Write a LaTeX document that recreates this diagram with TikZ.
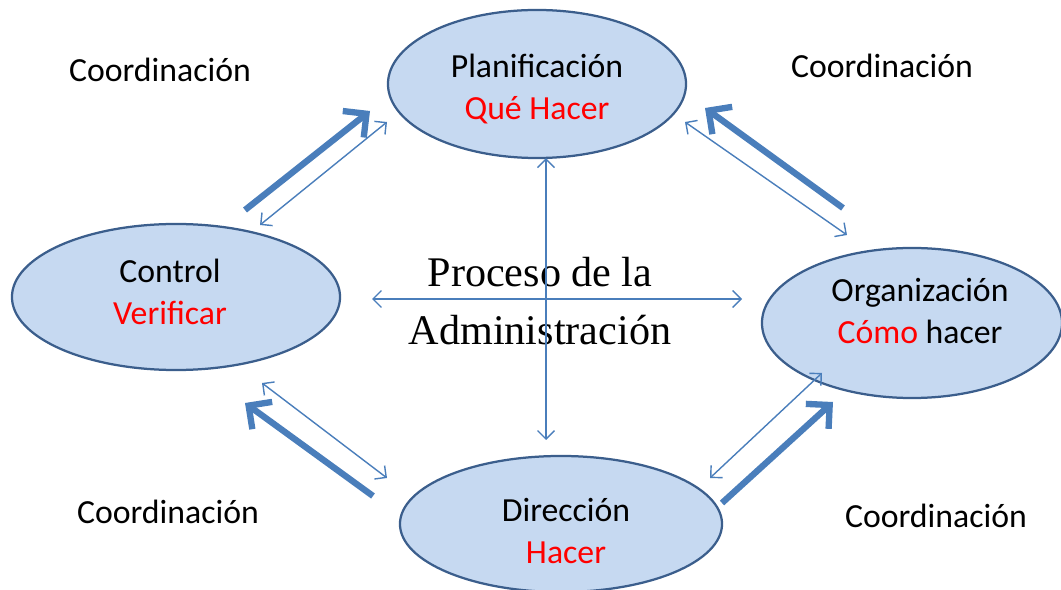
\documentclass[tikz,border=0pt]{standalone}
\usepackage{fontspec}
\setmainfont{Carlito}
\newfontfamily\procfont{Liberation Serif}
\usetikzlibrary{shapes.geometric,arrows.meta,calc}
\definecolor{elfill}{HTML}{C6D9F1}
\definecolor{eldraw}{HTML}{3B5E8C}
\definecolor{arrblue}{HTML}{4A7EBB}
\tikzset{
  fase/.style={ellipse, draw=eldraw, line width=1.6pt, fill=elfill,
    inner sep=0pt},
  fasetxt/.style={align=center, inner sep=0pt, font=\fontsize{24}{30}\selectfont},
  thinarr/.style={arrblue, line width=1pt,
    {Straight Barb[length=6pt,width=12pt]}-{Straight Barb[length=6pt,width=12pt]}},
  thickarr/.style={arrblue, line width=4.5pt,
    -{Straight Barb[length=12pt,width=24pt]}},
  coordlbl/.style={font=\fontsize{24}{30}\selectfont}
}
\begin{document}
\begin{tikzpicture}[x=0.025cm,y=-0.025cm]
\useasboundingbox (0,0) rectangle (1061,590);
% fases
\node[fase,minimum width=7.45cm,minimum height=3.7cm] (plan) at (537,84) {};
\node[fasetxt] (plantxt) at ($(plan)+(0,5)$) {Planificación\\\textcolor{red}{Qué Hacer}};
\node[fase,minimum width=8.2cm,minimum height=3.65cm] (ctrl) at (176,297) {};
\node[fasetxt] (ctrltxt) at ($(ctrl)+(-6,-5)$) {Control\\\textcolor{red}{Verificar}};
\node[fase,minimum width=7.5cm,minimum height=3.75cm] (org) at (912,323) {};
\node[fasetxt] (orgtxt) at ($(org)+(8,-12)$) {Organización\\\textcolor{red}{Cómo} hacer};
\node[fase,minimum width=8.05cm,minimum height=3.4cm] (dir) at (561,524) {};
\node[fasetxt] (dirtxt) at ($(dir)+(5,7)$) {Dirección\\\textcolor{red}{Hacer}};
% centro
\node[font=\procfont\fontsize{30}{41}\selectfont,align=center] (proc) at (540,301)
  {Proceso de la\\Administración};
\node[coordlbl] (c1) at (160,70) {Coordinación};
\node[coordlbl] (c2) at (882,66) {Coordinación};
\node[coordlbl] (c3) at (168,512) {Coordinación};
\node[coordlbl] (c4) at (936,516) {Coordinación};
% ejes
\coordinate (hl) at (372,299);
\coordinate (hr) at (742,299);
\draw[thinarr] (hl) -- (hr);
\draw[thinarr] (plan.south -| 546,0) ++(0,-1) coordinate (vt) -- (vt |- 0,440) coordinate (vb);
% flechas diagonales
\coordinate (tl1) at (245,210); \coordinate (tl2) at (370,111);
\coordinate (tl3) at (260,225); \coordinate (tl4) at (387,122);
\draw[thickarr] (tl1) -- (tl2);
\draw[thinarr] (tl3) -- (tl4);
\coordinate (tr1) at (843,208); \coordinate (tr2) at (705,108);
\coordinate (tr3) at (685,122); \coordinate (tr4) at (847,235);
\draw[thickarr] (tr1) -- (tr2);
\draw[thinarr] (tr3) -- (tr4);
\coordinate (bl1) at (373,496); \coordinate (bl2) at (245,403);
\coordinate (bl3) at (262,383); \coordinate (bl4) at (387,478);
\draw[thickarr] (bl1) -- (bl2);
\draw[thinarr] (bl3) -- (bl4);
\coordinate (br1) at (722,503); \coordinate (br2) at (833,402);
\coordinate (br3) at (822,373); \coordinate (br4) at (710,478);
\draw[thickarr] (br1) -- (br2);
\draw[thinarr] (br3) -- (br4);
\end{tikzpicture}
\end{document}
